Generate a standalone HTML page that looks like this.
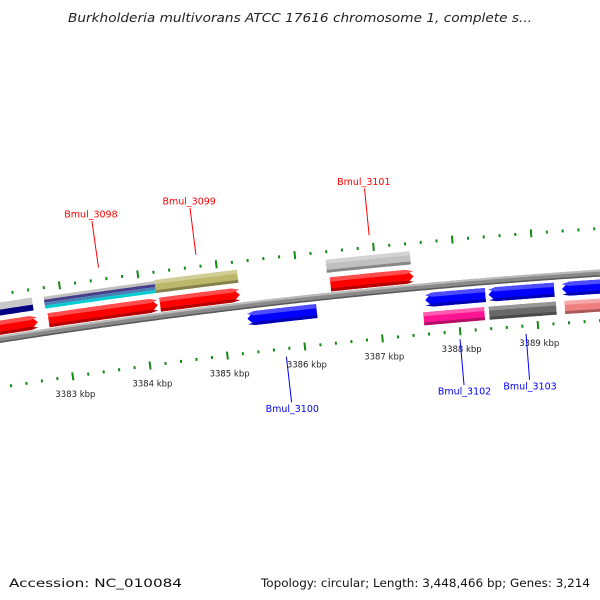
<!DOCTYPE html>
<html><head><meta charset="utf-8"><style>
html,body{margin:0;padding:0;background:#fff;}
svg{display:block;font-family:"DejaVu Sans","Liberation Sans",sans-serif;}
</style></head><body>
<svg id="map" width="600" height="600" viewBox="0 0 600 600" xmlns="http://www.w3.org/2000/svg">
<rect width="600" height="600" fill="#fff"/>
<text x="300" y="22" text-anchor="middle" font-size="12.5" font-style="italic" fill="#222" textLength="464" lengthAdjust="spacingAndGlyphs">Burkholderia multivorans ATCC 17616 chromosome 1, complete s...</text>
<g id="plot"></g>
<text x="9" y="587" font-size="11.5" fill="#111" textLength="173" lengthAdjust="spacingAndGlyphs">Accession: NC_010084</text>
<text x="590" y="587" text-anchor="end" font-size="11.5" fill="#111" textLength="329" lengthAdjust="spacingAndGlyphs">Topology: circular; Length: 3,448,466 bp; Genes: 3,214</text>
</svg>
<script>
// ---- data ----
const featNames  = ['gene-left-a','cds-left-a','cds-left-b','gene-3098','cds-3098-a','cds-3098-b','cds-3098-c','cds-3098-d','gene-3099','cds-3099','gene-3100','gene-3101','cds-3101','gene-3102','cds-3102','gene-3103','cds-3103','gene-next','cds-next'];
const featStart  = [3381.3,3381.3,3381.3,3382.80,3382.78,3382.78,3382.78,3382.78,3384.23,3384.20,3385.31,3386.41,3386.38,3387.59,3387.55,3388.40,3388.39,3389.34,3389.36];
const featEnd    = [3382.66,3382.63,3382.63,3384.20,3384.20,3384.20,3384.20,3384.20,3385.25,3385.25,3386.20,3387.47,3387.45,3388.36,3388.33,3389.24,3389.25,3390.3,3390.3];
const featStrand = [1,0,0,1,0,0,0,0,1,0,-1,1,0,-1,0,-1,0,-1,0];
const featRin    = [6595,6614,6620,6595,6623,6620,6617,6614,6595,6614,6570,6595,6614,6570,6552,6570,6552,6570,6552];
const featRout   = [6609,6620,6627,6609,6626,6623,6620,6617,6609,6627,6584,6609,6627,6584,6565,6584,6565,6584,6565];
const featColor  = ['#ff0000','#000080','#c8c8c8','#ff0000','#c0c0c0','#483d8b','#4682b4','#00ced1','#ff0000','#bdb76b','#0000ff','#ff0000','#c0c0c0','#0000ff','#ff1493','#0000ff','#696969','#0000ff','#f08080'];
const tickStart = 3381.0, tickEnd = 3391.0, tickStep = 0.2;
const kbpLabels = [3383,3384,3385,3386,3387,3388,3389];
const geneLabels = ['Bmul_3098','Bmul_3099','Bmul_3100','Bmul_3101','Bmul_3102','Bmul_3103'];
const geneLabelPos = [3383.52,3384.76,3385.75,3386.96,3387.99,3388.84];
const geneLabelStrand = [1,1,-1,1,-1,-1];

// ---- axis (polar) ----
const CX=1023, CY=6850, TH0=-0.14574, DTH=0.011922;
function P(k,r){const t=TH0+(k-3383)*DTH;return [CX+r*Math.sin(t), CY-r*Math.cos(t)];}
const NS='http://www.w3.org/2000/svg';
const plot=document.getElementById('plot');
function mk(tag,attrs){const e=document.createElementNS(NS,tag);for(const a in attrs)e.setAttribute(a,attrs[a]);plot.appendChild(e);return e;}
function arcPts(a,b,r){const pts=[];const n=Math.max(2,Math.ceil((b-a)*20));for(let i=0;i<=n;i++){pts.push(P(a+(b-a)*i/n,r));}return pts;}
function shape(a,b,r0,r1,strand){
  const h=0.09, rm=(r0+r1)/2; let pts=[];
  if(strand===1){const e=Math.max(a,b-h);pts=arcPts(a,e,r1).concat([P(b,rm)]).concat(arcPts(a,e,r0).reverse());}
  else if(strand===-1){const s=Math.min(b,a+h);pts=[P(a,rm)].concat(arcPts(s,b,r1)).concat(arcPts(s,b,r0).reverse());}
  else{pts=arcPts(a,b,r1).concat(arcPts(a,b,r0).reverse());}
  return pts.map(p=>p[0].toFixed(2)+','+p[1].toFixed(2)).join(' ');
}
function shade(c,f){const n=parseInt(c.slice(1),16);let r=n>>16,g=(n>>8)&255,b=n&255;
  if(f>0){r+= (255-r)*f;g+=(255-g)*f;b+=(255-b)*f;}else{r*=1+f;g*=1+f;b*=1+f;}
  return 'rgb('+Math.round(r)+','+Math.round(g)+','+Math.round(b)+')';}

// backbone
const bb1=mk('polygon',{points:shape(3380,3392,6587,6594,0),fill:'#8a8a8a'});


const bb2=mk('polygon',{points:shape(3380,3392,6592,6594,0),fill:'#bbbbbb'});


const bb3=mk('polygon',{points:shape(3380,3392,6587,6588.5,0),fill:'#5a5a5a'});



// ticks
const nT=Math.round((tickEnd-tickStart)/tickStep);
for(let i=0;i<=nT;i++){
  const k=tickStart+i*tickStep, major=(Math.abs(k-Math.round(k))<1e-6);
  [6635,6543].forEach((r,j)=>{
    const a=P(k,major?r-4:r-1.5), b=P(k,major?r+4:r+1.5);
    if(a[0]<-10||a[0]>610)return;
    const t=mk('line',{x1:a[0],y1:a[1],x2:b[0],y2:b[1],stroke:'#138a13','stroke-width':2});
    
    
  });
}
kbpLabels.forEach(k=>{
  const p=P(k,6525); if(p[0]<10||p[0]>590)return;
  const t=mk('text',{x:p[0],y:p[1]+3,'text-anchor':'middle','font-size':'8.5',fill:'#222'});
  t.textContent=k+' kbp';
  
  
});

// features
featNames.forEach((nm,i)=>{
  const a=featStart[i],b=featEnd[i],r0=featRin[i],r1=featRout[i],s=featStrand[i],c=featColor[i];
  const g=document.createElementNS(NS,'g');plot.appendChild(g);
  
  
  const th=r1-r0;
  const main=document.createElementNS(NS,'polygon');main.setAttribute('points',shape(a,b,r0,r1,s));main.setAttribute('fill',c);g.appendChild(main);
  if(th>=10){
    const hi=document.createElementNS(NS,'polygon');hi.setAttribute('points',shape(a,b,r1-th*0.3,r1,s));hi.setAttribute('fill',shade(c,0.3));g.appendChild(hi);
    const lo=document.createElementNS(NS,'polygon');lo.setAttribute('points',shape(a,b,r0,r0+th*0.22,s));lo.setAttribute('fill',shade(c,-0.3));g.appendChild(lo);
  }
});

// gene labels
geneLabels.forEach((nm,i)=>{
  const k=geneLabelPos[i], s=geneLabelStrand[i];
  const col=s===1?'#ff0000':'#0000ff';
  const r1=s===1?6647:6535, r2=s===1?6694:6489, rt=s===1?6701:6483;
  const a=P(k,r1), b=P(k,r2), t=P(k,rt);
  const ln=mk('line',{x1:a[0],y1:a[1],x2:b[0],y2:b[1],stroke:col,'stroke-width':1});
  
  
  const tx=mk('text',{x:t[0],y:t[1]+3.5,'text-anchor':'middle','font-size':'9.5',fill:col});
  tx.textContent=nm;
  
  
});
</script>
</body></html>
